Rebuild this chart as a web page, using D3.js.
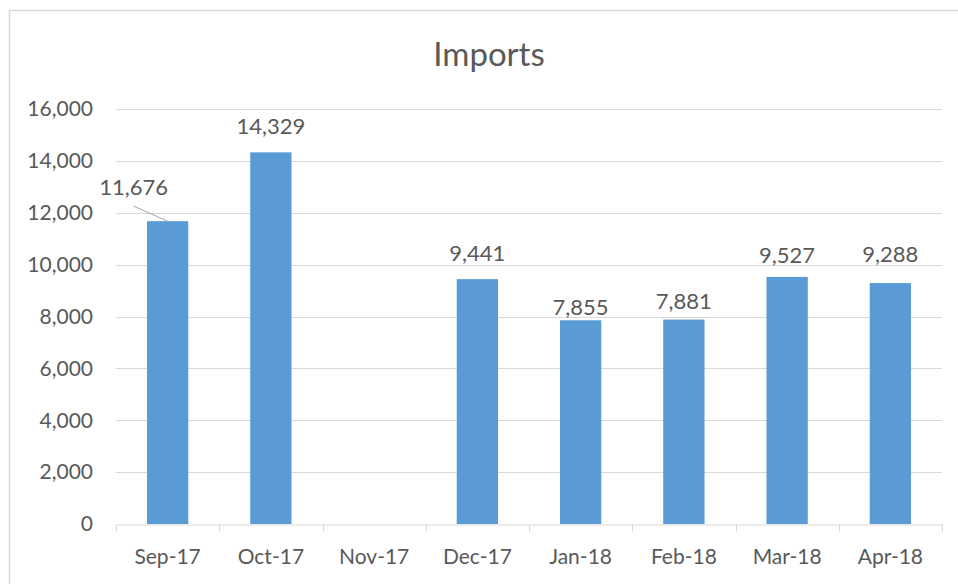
<!DOCTYPE html>
<html>
<head>
<meta charset="utf-8">
<script src="https://cdn.jsdelivr.net/npm/d3@7"></script>
<style>
  html, body { margin: 0; padding: 0; background: #fff; }
  svg { display: block; }
  text { font-family: Lato, "Open Sans", sans-serif; fill: #595959; }
</style>
</head>
<body>
<svg id="chart" width="958" height="584"></svg>
<script>
const title = "Imports";
const categories = ["Sep-17", "Oct-17", "Nov-17", "Dec-17", "Jan-18", "Feb-18", "Mar-18", "Apr-18"];
const values = [11676, 14329, null, 9441, 7855, 7881, 9527, 9288];
const yTicks = [0, 2000, 4000, 6000, 8000, 10000, 12000, 14000, 16000];
// label placement tweaks (pixels) relative to default position above bar
const labelDx = [-34, 0, 0, 0, 0, 0, 0, 0];
const labelDy = [-8, 0, 0, 0, 13, 7, 4, -3];

const W = 958, H = 584;
const m = { left: 116, right: 16, top: 109, bottom: 60 };
const svg = d3.select("#chart");

// chart frame (top & left visible)
svg.append("rect").attr("x", 9.5).attr("y", 10.5).attr("width", 980).attr("height", 620)
  .attr("fill", "#fff").attr("stroke", "#d9d9d9").attr("stroke-width", 1.5);

const x = d3.scaleBand().domain(categories).range([m.left, W - m.right])
  .paddingInner(0.6).paddingOuter(0.3);
const y = d3.scaleLinear().domain([0, 16000]).range([H - m.bottom, m.top]);

// gridlines
svg.append("g").selectAll("line").data(yTicks.filter(d => d > 0)).join("line")
  .attr("x1", m.left).attr("x2", W - m.right)
  .attr("y1", d => Math.round(y(d)) + 0.5).attr("y2", d => Math.round(y(d)) + 0.5)
  .attr("stroke", "#d9d9d9").attr("stroke-width", 1);

// y labels
const fmt = d3.format(",");
svg.append("g").selectAll("text").data(yTicks).join("text")
  .attr("x", m.left - 23).attr("y", d => y(d)).attr("dy", "0.35em")
  .attr("text-anchor", "end").style("font-size", "21px").text(d => fmt(d));

// bars
const data = categories.map((c, i) => ({ c, v: values[i], i }));
svg.append("g").selectAll("rect").data(data.filter(d => d.v != null)).join("rect")
  .attr("x", d => x(d.c)).attr("width", x.bandwidth())
  .attr("y", d => y(d.v)).attr("height", d => y(0) - y(d.v))
  .attr("fill", "#5b9bd5");

// x axis
const xAxis = d3.axisBottom(x).tickSize(0).tickFormat(d => d);
const gx = svg.append("g").attr("transform", `translate(0,${Math.round(y(0)) + 0.5})`).call(xAxis);
gx.select(".domain").attr("stroke", "#d9d9d9");
gx.selectAll(".tick text").attr("dy", 0).attr("y", 39).style("font-size", "21px")
  .style("font-family", "Lato, 'Open Sans', sans-serif").attr("fill", "#595959");
// category boundary tick marks
const bounds = d3.range(categories.length + 1).map(i => m.left + i * x.step());
gx.append("g").selectAll("line").data(bounds).join("line")
  .attr("x1", d => Math.round(d) + 0.5).attr("x2", d => Math.round(d) + 0.5)
  .attr("y1", 0).attr("y2", 7).attr("stroke", "#d9d9d9");

// data labels
const lbl = svg.append("g");
data.filter(d => d.v != null).forEach(d => {
  const cx = x(d.c) + x.bandwidth() / 2 + labelDx[d.i];
  const by = y(d.v) - 18 + labelDy[d.i];
  lbl.append("text").attr("x", cx).attr("y", by).attr("text-anchor", "middle")
    .style("font-size", "22px").text(fmt(d.v));
  if (labelDx[d.i] !== 0) {
    lbl.append("line").attr("x1", cx).attr("y1", by + 11)
      .attr("x2", x(d.c) + x.bandwidth() / 2).attr("y2", y(d.v))
      .attr("stroke", "#a6a6a6").attr("stroke-width", 1);
  }
});

// title
svg.append("text").attr("x", 489).attr("y", 66).attr("text-anchor", "middle")
  .style("font-size", "33px").text(title);
</script>
</body>
</html>
